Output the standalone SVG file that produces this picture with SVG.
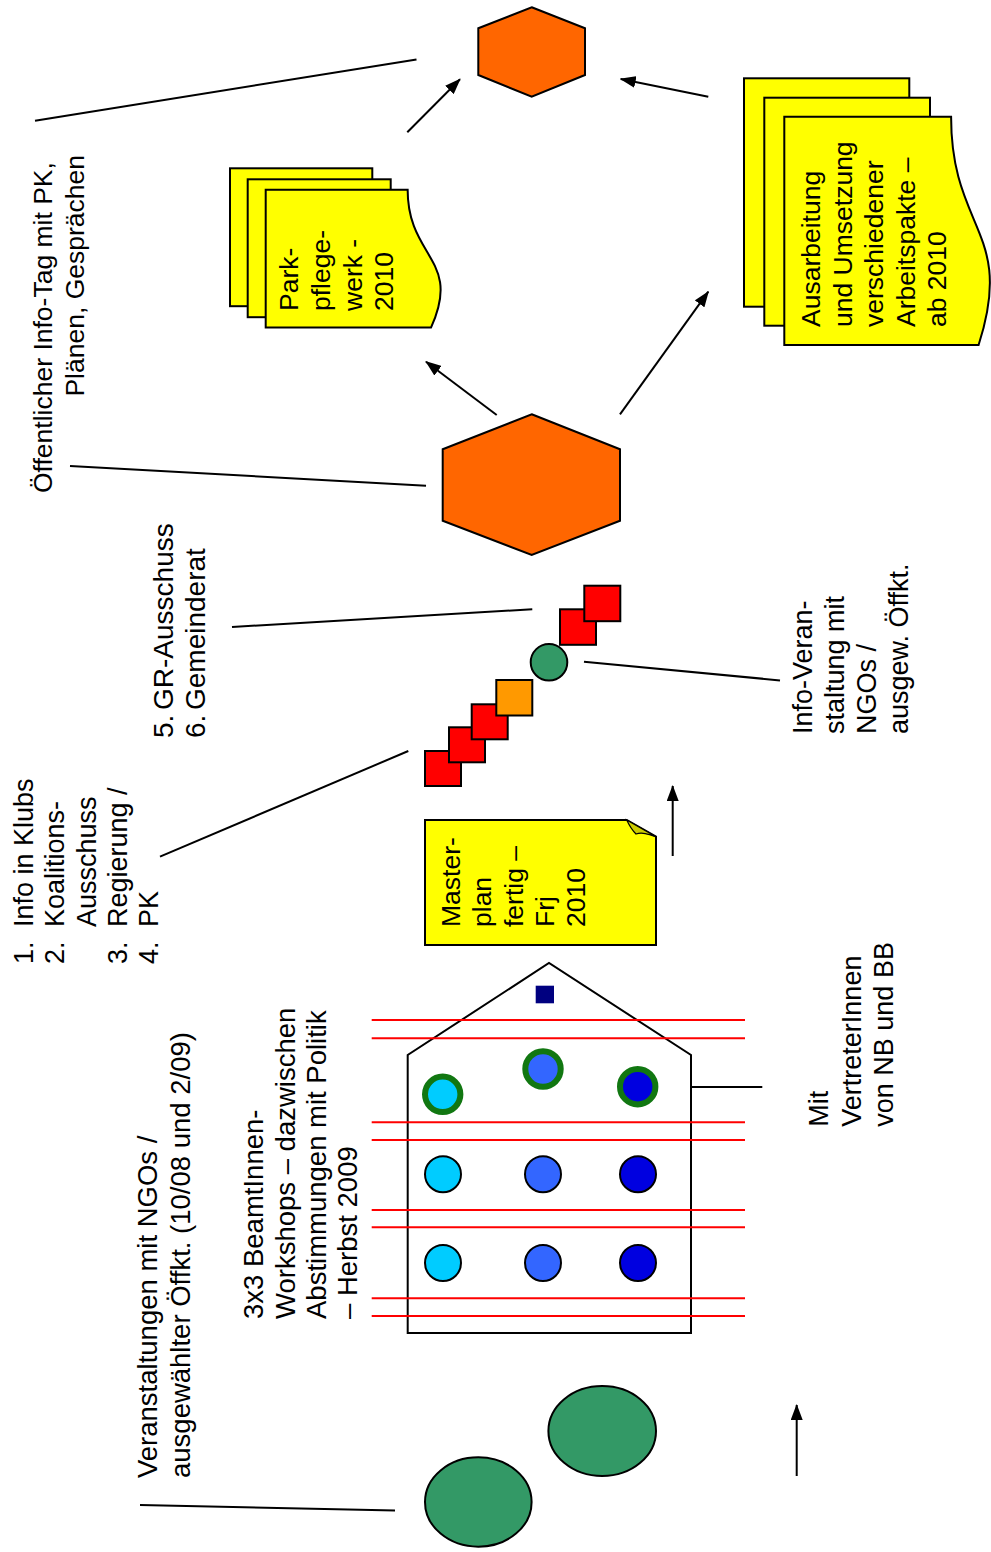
<svg xmlns="http://www.w3.org/2000/svg" width="991" height="1552" viewBox="0 0 991 1552">
<style>
  text { font-family: "Liberation Sans", Arial, sans-serif; fill: #000; }
  .t26 { font-size: 26.5px; }
  .t27 { font-size: 27px; }
  .t275 { font-size: 27.5px; }
  .t28 { font-size: 28px; }
  .ln { stroke: #000; stroke-width: 2; fill: none; }
  .arw { stroke: #000; stroke-width: 2; fill: none; marker-end: url(#arr); }
  .hex { fill: #FF6600; stroke: #000; stroke-width: 2; }
  .doc { fill: #FFFF00; stroke: #000; stroke-width: 2; }
  .red { fill: #FF0000; stroke: #000; stroke-width: 2; }
  .org { fill: #FF9900; stroke: #000; stroke-width: 2; }
  .grn { fill: #339966; stroke: #000; stroke-width: 2; }
  .rl { stroke: #FF0000; stroke-width: 2; }
  .ring { stroke: #117711; stroke-width: 6; }
  .dot { stroke: #000; stroke-width: 2; }
  .c1 { fill: #00CCFF; }
  .c2 { fill: #3366FF; }
  .c3 { fill: #0000E0; }
</style>
<defs>
  <marker id="arr" markerUnits="userSpaceOnUse" markerWidth="16" markerHeight="12" refX="15" refY="6" orient="auto">
    <path d="M0,0 L16,6 L0,12 Z" fill="#000"/>
  </marker>
</defs>
<rect width="991" height="1552" fill="#FFFFFF"/>

<!-- connectors -->
<g id="connectors">
  <line class="ln" x1="35" y1="120.7" x2="416.5" y2="59.5"/>
  <line class="ln" x1="70" y1="466" x2="426" y2="485.7"/>
  <line class="ln" x1="160" y1="856.7" x2="408.3" y2="751"/>
  <line class="ln" x1="232" y1="627" x2="532.3" y2="609.3"/>
  <line class="ln" x1="584" y1="661.7" x2="780" y2="680.4"/>
  <line class="ln" x1="672.7" y1="1087" x2="762.3" y2="1087"/>
  <line class="ln" x1="140" y1="1505" x2="395" y2="1510.6"/>
  <line class="arw" x1="407.3" y1="132.3" x2="460" y2="79.3"/>
  <line class="arw" x1="708.3" y1="96.7" x2="620.7" y2="79"/>
  <line class="arw" x1="496.7" y1="415" x2="426" y2="361.7"/>
  <line class="arw" x1="620" y1="414.3" x2="708.3" y2="291.7"/>
  <line class="arw" x1="672.7" y1="856" x2="672.7" y2="786"/>
  <line class="arw" x1="796.7" y1="1476" x2="796.7" y2="1405"/>
</g>

<!-- hexagons -->
<g id="hex-top">
  <polygon class="hex" points="531.7,7.3 585,28.3 585,75 531.7,96.7 478.3,75 478.3,28.3"/>
</g>
<g id="hex-big">
  <polygon class="hex" points="531.7,414.3 620,449.3 620,520.7 531.7,555 442.7,520.7 442.7,449.3"/>
</g>

<!-- Parkpflegewerk document -->
<g id="doc-park">
  <rect class="doc" x="230" y="168.3" width="142.3" height="137.9"/>
  <rect class="doc" x="247.7" y="179.3" width="143" height="137.9"/>
  <path class="doc" d="M265.7,327.6 V189.7 H407.65 C407.65,258.65 462.28,258.65 431,327.6 Z"/>
  <text class="t26" transform="translate(298.3,311) rotate(-90)"><tspan x="0" dy="0">Park-</tspan><tspan x="0" dy="31.7">pflege-</tspan><tspan x="0" dy="31.7">werk -</tspan><tspan x="0" dy="31.7">2010</tspan></text>
</g>

<!-- Ausarbeitung document -->
<g id="doc-ausarbeitung">
  <rect class="doc" x="744" y="78.3" width="165.3" height="228.4"/>
  <rect class="doc" x="764.3" y="97.7" width="165.7" height="228"/>
  <path class="doc" d="M784.3,345 V116.7 H951.1 C951.1,230.85 1015.3,230.85 978.6,345 Z"/>
  <text class="t26" transform="translate(820,327) rotate(-90)"><tspan x="0" dy="0">Ausarbeitung</tspan><tspan x="0" dy="31.6">und Umsetzung</tspan><tspan x="0" dy="31.6">verschiedener</tspan><tspan x="0" dy="31.6">Arbeitspakte –</tspan><tspan x="0" dy="31.6">ab 2010</tspan></text>
</g>

<!-- Oeffentlicher Info-Tag label -->
<g id="label-infotag">
  <text class="t26" transform="translate(52,493) rotate(-90)"><tspan x="0" dy="0">Öffentlicher Info-Tag mit PK,</tspan><tspan x="96.4" dy="31.6">Plänen,  Gesprächen</tspan></text>
</g>

<!-- squares and circle chain -->
<g id="chain">
  <rect class="red" x="425" y="751" width="36" height="35"/>
  <rect class="red" x="449" y="727.3" width="36" height="35"/>
  <rect class="red" x="471.7" y="704.3" width="36" height="35"/>
  <rect class="org" x="496.3" y="680" width="36" height="35.5"/>
  <circle class="grn" cx="549" cy="662.3" r="18.3"/>
  <rect class="red" x="560" y="609.3" width="36" height="35.5"/>
  <rect class="red" x="584.3" y="585.7" width="36" height="35.5"/>
</g>

<!-- GR label -->
<g id="label-gr">
  <text class="t28" transform="translate(173.3,738) rotate(-90)"><tspan x="0" dy="0">5.</tspan><tspan x="28" dy="0">GR-Ausschuss</tspan><tspan x="0" dy="31.7">6.</tspan><tspan x="28" dy="0">Gemeinderat</tspan></text>
</g>

<!-- Klubs label -->
<g id="label-klubs">
  <text class="t27" transform="translate(33,964) rotate(-90)"><tspan x="0" dy="0">1.</tspan><tspan x="37" dy="0">Info in Klubs</tspan><tspan x="0" dy="31">2.</tspan><tspan x="37" dy="0">Koalitions-</tspan><tspan x="37" dy="31.5">Ausschuss</tspan><tspan x="0" dy="31.5">3.</tspan><tspan x="37" dy="0">Regierung /</tspan><tspan x="0" dy="31">4.</tspan><tspan x="37" dy="0">PK</tspan></text>
</g>

<!-- Info-Veranstaltung label -->
<g id="label-infoveranst">
  <text class="t27" transform="translate(811.7,734) rotate(-90)"><tspan x="0" dy="0">Info-Veran-</tspan><tspan x="0" dy="32">staltung mit</tspan><tspan x="0" dy="32">NGOs /</tspan><tspan x="0" dy="32">ausgew. Öffkt.</tspan></text>
</g>

<!-- Masterplan note -->
<g id="note-masterplan">
  <path class="doc" d="M425,820 H626.7 L656,836.7 V945 H425 Z"/>
  <path d="M626.7,820 C630,827 633,831 636,834 C642,832 648,834 656,836.7 Z" fill="#CCCC00" stroke="#000" stroke-width="1.2"/>
  <text class="t26" transform="translate(460,927) rotate(-90)"><tspan x="0" dy="0">Master-</tspan><tspan x="0" dy="31.25">plan</tspan><tspan x="0" dy="31.25">fertig –</tspan><tspan x="0" dy="31.25">Frj</tspan><tspan x="0" dy="31.25">2010</tspan></text>
</g>

<!-- House -->
<g id="house">
  <path d="M407.7,1333 V1055 L549,963 L691,1055 V1333 Z" fill="#FFFFFF" stroke="#000" stroke-width="2"/>
  <rect x="535.7" y="985.7" width="18.3" height="17.6" fill="#000080"/>
  <g id="house-lines">
    <line class="rl" x1="371.7" y1="1020" x2="745" y2="1020"/>
    <line class="rl" x1="371.7" y1="1038.3" x2="745" y2="1038.3"/>
    <line class="rl" x1="371.7" y1="1122.3" x2="745" y2="1122.3"/>
    <line class="rl" x1="371.7" y1="1140" x2="745" y2="1140"/>
    <line class="rl" x1="371.7" y1="1210" x2="745" y2="1210"/>
    <line class="rl" x1="371.7" y1="1227.3" x2="745" y2="1227.3"/>
    <line class="rl" x1="371.7" y1="1298.3" x2="745" y2="1298.3"/>
    <line class="rl" x1="371.7" y1="1316" x2="745" y2="1316"/>
  </g>
  <g id="house-circles">
    <circle class="c1 ring" cx="442.7" cy="1094.3" r="17.7"/>
    <circle class="c2 ring" cx="543" cy="1069" r="17.7"/>
    <circle class="c3 ring" cx="637.7" cy="1086.7" r="17.7"/>
    <circle class="c1 dot" cx="443" cy="1174.3" r="18"/>
    <circle class="c2 dot" cx="543" cy="1174.3" r="18"/>
    <circle class="c3 dot" cx="638" cy="1174.3" r="18"/>
    <circle class="c1 dot" cx="443" cy="1263" r="18"/>
    <circle class="c2 dot" cx="543" cy="1263" r="18"/>
    <circle class="c3 dot" cx="638" cy="1263" r="18"/>
  </g>
</g>

<!-- Mit VertreterInnen label -->
<g id="label-vertreter">
  <text class="t27" transform="translate(828.3,1126.7) rotate(-90)"><tspan x="0" dy="0">Mit</tspan><tspan x="0" dy="32.5">VertreterInnen</tspan><tspan x="0" dy="32.5">von NB und BB</tspan></text>
</g>

<!-- Workshops label -->
<g id="label-workshops">
  <text class="t275" transform="translate(263.3,1319) rotate(-90)"><tspan x="0" dy="0">3x3 BeamtInnen-</tspan><tspan x="0" dy="31.3">Workshops – dazwischen</tspan><tspan x="0" dy="31.3">Abstimmungen mit Politik</tspan><tspan x="0" dy="31.3">– Herbst 2009</tspan></text>
</g>

<!-- Veranstaltungen label -->
<g id="label-veranstaltungen">
  <text class="t275" transform="translate(156.5,1478) rotate(-90)"><tspan x="0" dy="0">Veranstaltungen mit NGOs /</tspan><tspan x="0" dy="33">ausgewählter Öffkt.  (10/08 und 2/09)</tspan></text>
</g>

<!-- green ellipses -->
<g id="events">
  <ellipse class="grn" cx="478.3" cy="1502" rx="53.3" ry="44.7"/>
  <ellipse class="grn" cx="602.2" cy="1431" rx="53.8" ry="45"/>
</g>
</svg>
